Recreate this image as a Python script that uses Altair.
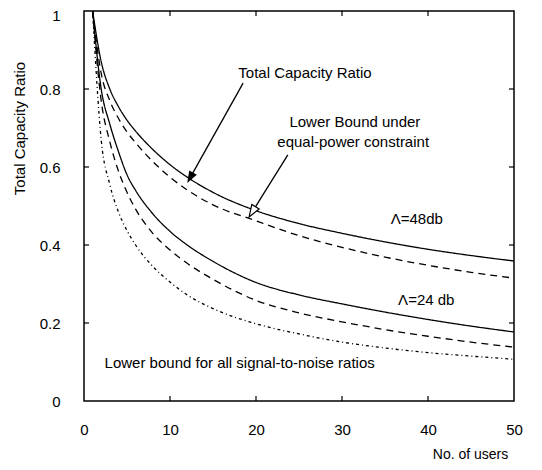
import math
import altair as alt
import pandas as pd

# ---- data ----
users = [1, 2, 3, 4, 5, 6, 8, 10, 12, 15, 20, 25, 30, 35, 40, 45, 50]
cap_48 = [1.0, 0.87, 0.80, 0.755, 0.72, 0.692, 0.645, 0.606, 0.574, 0.535, 0.488, 0.455, 0.43, 0.408, 0.389, 0.373, 0.359]
low_48 = [1.0, 0.84, 0.77, 0.725, 0.69, 0.662, 0.614, 0.574, 0.541, 0.503, 0.462, 0.424, 0.394, 0.369, 0.348, 0.33, 0.315]
cap_24 = [1.0, 0.80, 0.71, 0.64, 0.58, 0.54, 0.48, 0.435, 0.40, 0.358, 0.304, 0.272, 0.249, 0.228, 0.209, 0.192, 0.177]
low_24 = [1.0, 0.77, 0.665, 0.59, 0.535, 0.492, 0.43, 0.387, 0.353, 0.312, 0.258, 0.226, 0.203, 0.183, 0.166, 0.151, 0.138]
low_all = [1.0, 0.67, 0.555, 0.485, 0.437, 0.40, 0.345, 0.305, 0.272, 0.237, 0.198, 0.172, 0.151, 0.136, 0.124, 0.115, 0.107]

series_names = ["cap48", "low48", "cap24", "low24", "lowall"]
series_vals = [cap_48, low_48, cap_24, low_24, low_all]
series_dash = [[1, 0], [7, 5], [1, 0], [7, 5], [3, 3, 1, 3]]

x_ticks = [0, 10, 20, 30, 40, 50]
y_ticks = [0, 0.2, 0.4, 0.6, 0.8, 1.0]
inner_x_ticks = [10, 20, 30, 40]
inner_y_ticks = [0.2, 0.4, 0.6, 0.8]

ann_text = ["Total Capacity Ratio", "Lower Bound under", "equal-power constraint",
            "Λ=48db", "Λ=24 db", "Lower bound for all signal-to-noise ratios"]
ann_x = [25.7, 31.5, 31.3, 38.7, 39.8, 18.1]
ann_y = [0.841, 0.715, 0.664, 0.467, 0.259, 0.097]

# arrows: tail (x, y) -> tip (x2, y2)
arrow_x = [18.5, 23.7]
arrow_y = [0.815, 0.631]
arrow_x2 = [12.0, 19.2]
arrow_y2 = [0.559, 0.472]
arrow_filled = [True, False]

W, H = 430, 390
font = "Liberation Sans"

rows = []
for name, vals in zip(series_names, series_vals):
    for u, v in zip(users, vals):
        rows.append({"users": u, "ratio": v, "series": name})
df = pd.DataFrame(rows)

xs = alt.Scale(domain=[0, 50], nice=False)
ys = alt.Scale(domain=[0, 1], nice=False)

x_axis = alt.Axis(
    values=x_ticks, domain=False, ticks=False, grid=False, labelPadding=21, labelFlush=False,
    labelFont=font, labelFontSize=15, labelColor="black",
    title="No. of users", titleX=386, titleY=53, titleFont=font, titleFontSize=14,
    titleFontWeight="normal", titleAlign="center", titleBaseline="middle", titleColor="black")
y_axis = alt.Axis(
    values=y_ticks, format="~g", domain=False, ticks=False, grid=False, labelPadding=24, labelFlush=False,
    labelFont=font, labelFontSize=15, labelColor="black",
    labelOffset=alt.expr("datum.value == 1 ? 4 : 0"),
    title="Total Capacity Ratio", titleX=-65, titleY=117, titleAngle=270,
    titleFont=font, titleFontSize=15, titleFontWeight="normal",
    titleAlign="center", titleBaseline="middle", titleColor="black")

X = lambda f: alt.X(f, scale=xs, axis=x_axis, title="No. of users")
Y = lambda f: alt.Y(f, scale=ys, axis=y_axis, title="Total Capacity Ratio")

lines = alt.Chart(df).mark_line(color="black", strokeWidth=1.3, interpolate="monotone").encode(
    x=X("users:Q"), y=Y("ratio:Q"),
    strokeDash=alt.StrokeDash("series:N", scale=alt.Scale(domain=series_names, range=series_dash), legend=None),
)

xt = pd.DataFrame({"users": inner_x_ticks})
yt = pd.DataFrame({"ratio": inner_y_ticks})
tick_style = dict(color="black", strokeWidth=1.2)
xb = alt.Chart(xt).mark_rule(**tick_style).encode(x=X("users:Q"), y=alt.value(H), y2=alt.value(H - 5))
xtp = alt.Chart(xt).mark_rule(**tick_style).encode(x=X("users:Q"), y=alt.value(0), y2=alt.value(5))
yl = alt.Chart(yt).mark_rule(**tick_style).encode(y=Y("ratio:Q"), x=alt.value(0), x2=alt.value(5))
yr = alt.Chart(yt).mark_rule(**tick_style).encode(y=Y("ratio:Q"), x=alt.value(W), x2=alt.value(W - 5))

ann = pd.DataFrame({"t": ann_text, "users": ann_x, "ratio": ann_y})
texts = alt.Chart(ann).mark_text(font=font, fontSize=15, color="black", align="center", baseline="middle").encode(
    x=X("users:Q"), y=Y("ratio:Q"), text="t:N")

# arrow geometry
head_len = 12.0
arows = []
for x1, y1, x2, y2, f in zip(arrow_x, arrow_y, arrow_x2, arrow_y2, arrow_filled):
    dxp = (x2 - x1) * W / 50.0
    dyp = -(y2 - y1) * H / 1.0
    L = math.hypot(dxp, dyp)
    ang = math.degrees(math.atan2(dxp, -dyp)) % 360
    bx = x2 - (dxp / L) * (head_len - 1) * 50.0 / W
    by = y2 + (dyp / L) * (head_len - 1) / H
    arows.append({"users": x1, "ratio": y1, "bx": bx, "by": by, "tx": x2, "ty": y2, "ang": ang, "filled": f})
adf = pd.DataFrame(arows)

shafts = alt.Chart(adf).mark_rule(color="black", strokeWidth=1.3).encode(
    x=X("users:Q"), y=Y("ratio:Q"), x2="bx:Q", y2="by:Q")
head_shape = "M0,0L-0.36,1L0.36,1Z"
size = (2 * head_len) ** 2
head_f = alt.Chart(adf[adf["filled"]]).mark_point(shape=head_shape, filled=True, color="black", size=size, opacity=1).encode(
    x=alt.X("tx:Q", scale=xs, axis=x_axis, title="No. of users"),
    y=alt.Y("ty:Q", scale=ys, axis=y_axis, title="Total Capacity Ratio"),
    angle=alt.Angle("ang:Q", scale=None))
head_o = alt.Chart(adf[~adf["filled"]]).mark_point(shape=head_shape, filled=True, fill="white", stroke="black",
                                                     strokeWidth=1.2, size=size, opacity=1).encode(
    x=alt.X("tx:Q", scale=xs, axis=x_axis, title="No. of users"),
    y=alt.Y("ty:Q", scale=ys, axis=y_axis, title="Total Capacity Ratio"),
    angle=alt.Angle("ang:Q", scale=None))

chart = alt.layer(lines, xb, xtp, yl, yr, texts, shafts, head_f, head_o).properties(
    width=W, height=H,
    autosize=alt.AutoSizeParams(type="none"),
    padding={"left": 76, "top": 3, "right": 20, "bottom": 59},
    background="white",
).configure_view(stroke="black", strokeWidth=1.5)

chart.save("out.html", embed_options={"renderer": "svg", "actions": False})
